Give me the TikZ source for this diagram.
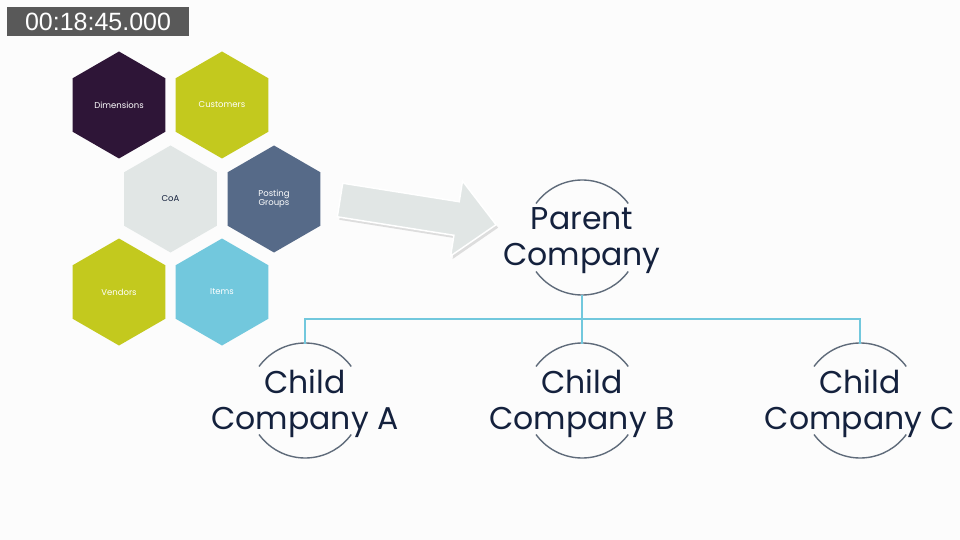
\documentclass[tikz,border=0pt]{standalone}
\usepackage{fontspec}
\setmainfont{Poppins}
\newfontfamily\stampfont{Liberation Sans}
\usetikzlibrary{shapes.geometric,calc}
\definecolor{bgc}{HTML}{FCFCFC}
\definecolor{dimc}{HTML}{2E1537}
\definecolor{limec}{HTML}{C3C91E}
\definecolor{coac}{HTML}{E1E6E5}
\definecolor{postc}{HTML}{566A88}
\definecolor{itemc}{HTML}{72C8DD}
\definecolor{navyc}{HTML}{14213D}
\definecolor{arcc}{HTML}{5F6B7A}
\definecolor{stampc}{HTML}{595959}
\tikzset{
  hexa/.style={regular polygon, regular polygon sides=6, shape border rotate=30,
    minimum size=107pt, inner sep=0pt, draw=none, align=center,
    font=\fontsize{8.5}{9.5}\selectfont, text=white},
  bigtext/.style={align=center, text=navyc, font=\fontsize{31.5}{35.5}\selectfont},
  ringarc/.style={draw=arcc, line width=1.4pt},
  conn/.style={draw=itemc, line width=1.8pt},
}
\begin{document}
\begin{tikzpicture}[x=1pt,y=-1pt]
\fill[bgc] (0,0) rectangle (960,540);
\useasboundingbox (0,0) rectangle (960,540);
% timestamp
\node[fill=stampc, text=white, minimum width=182pt, minimum height=29pt, inner sep=0pt,
  font=\stampfont\fontsize{25}{25}\selectfont] (stamp) at (98,21.5) {00:18:45.000};
% hexagons
\node[hexa, fill=dimc] (dim) at (119,105) {Dimensions};
\node[hexa, fill=limec] (cust) at (222,105) {Customers};
\node[hexa, fill=coac, text=navyc] (coa) at (170.5,199) {CoA};
\node[hexa, fill=postc] (post) at (274,199) {Posting\\Groups};
\node[hexa, fill=limec] (vend) at (119,292) {Vendors};
\node[hexa, fill=itemc] (items) at (222,292) {Items};
% block arrow
\fill[black!25, opacity=0.5] (344.7,186.2) -- (461.2,204.7) -- (464.5,183.9) -- (498.1,227.7)
  -- (452.6,259) -- (455.9,238.3) -- (339.3,219.8) -- cycle;
\filldraw[fill=coac, draw=white, line width=1.5pt] (342.7,183.2) -- (459.2,201.7) -- (462.5,180.9) -- (496.1,224.7)
  -- (450.6,256) -- (453.9,235.3) -- (337.3,216.8) -- cycle;
% parent
\node[bigtext] (par) at (582,240.5) {Parent\\Company};
\coordinate (parc) at ($(par.center)+(0,-3)$);
\draw[ringarc] ($(parc)+(-46,-34)$) arc[start angle=144, end angle=36, radius=57pt];
\draw[ringarc] ($(parc)+(-46,34)$) arc[start angle=216, end angle=324, radius=57pt];
% children
\node[bigtext] (ca) at (305,403.5) {Child\\Company A};
\node[bigtext] (cb) at (582,403.5) {Child\\Company B};
\node[bigtext] (cc) at (860,403.5) {Child\\Company C};
\foreach \n in {ca,cb,cc}{
  \coordinate (\n c) at ($(\n.center)+(0,-3)$);
  \draw[ringarc] ($(\n c)+(-46,-34)$) arc[start angle=144, end angle=36, radius=57pt];
  \draw[ringarc] ($(\n c)+(-46,34)$) arc[start angle=216, end angle=324, radius=57pt];
}
% connectors
\coordinate (pb) at ($(parc)+(0,57)$);
\coordinate (at) at ($(cac)+(0,-57)$);
\coordinate (bt) at ($(cbc)+(0,-57)$);
\coordinate (ct) at ($(ccc)+(0,-57)$);
\coordinate (junc) at (582,319);
\draw[conn] (pb) -- (bt);
\draw[conn] (at) -- (at |- junc) -- (ct |- junc) -- (ct);
\end{tikzpicture}
\end{document}
